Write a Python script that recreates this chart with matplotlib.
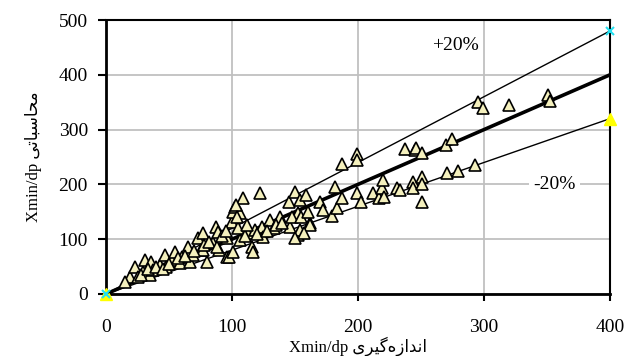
import matplotlib
matplotlib.use("Agg")
import matplotlib.pyplot as plt

SERIF = ["Liberation Serif", "DejaVu Sans"]
plt.rcParams["font.family"] = SERIF

x_meas = [19, 23, 25, 29, 31, 35, 36, 37, 43, 47, 48, 52, 55, 59, 60, 65, 67, 69, 73, 75,
          77, 77, 80, 85, 87, 89, 90, 96, 96, 98, 100, 101, 101, 102, 106, 106, 109, 113, 116, 117,
          118, 122, 124, 125, 130, 133, 138, 145, 146, 150, 152, 152, 154, 154, 159, 162, 162, 170, 172, 179,
          182, 183, 187, 187, 199, 199, 199, 202, 212, 217, 219, 220, 221, 231, 233, 237, 244, 244, 245, 246,
          251, 251, 251, 251, 270, 271, 275, 279, 293, 295, 299, 320, 351, 352,
          15, 28, 33, 40, 45, 50, 57, 63, 70, 78, 82, 88, 92, 95, 105, 110, 112, 120, 128, 135,
          140, 148, 155, 160, 157, 150, 103, 104]
y_calc = [31, 49, 31, 40, 62, 35, 58, 44, 53, 71, 49, 62, 77, 57, 68, 86, 58, 71, 102, 80,
          111, 80, 58, 93, 122, 113, 80, 102, 68, 68, 131, 150, 77, 159, 148, 99, 175, 111, 86, 77,
          117, 184, 122, 104, 135, 120, 141, 168, 122, 186, 148, 108, 172, 117, 181, 130, 126, 168, 153, 143,
          195, 157, 237, 175, 255, 245, 184, 168, 184, 175, 193, 208, 177, 193, 190, 264, 204, 193, 263, 266,
          257, 214, 201, 168, 272, 221, 283, 224, 235, 350, 340, 345, 363, 352,
          22, 35, 45, 50, 45, 55, 65, 70, 78, 90, 95, 85, 105, 115, 120, 105, 125, 110, 115, 125,
          130, 140, 140, 150, 112, 102, 163, 140]

line_x = [0, 400]
upper_y = [0, 480]   # +20%
equal_y = [0, 400]
lower_y = [0, 320]   # -20%

XLABEL_FA = "اندازه\u200cگیری"
YLABEL_FA = "محاسباتی"

# minimal Persian shaping (matplotlib has no complex text layout)
FORMS = {
    "ا": ("\uFE8D", "\uFE8E", None, None),
    "د": ("\uFEA9", "\uFEAA", None, None),
    "ز": ("\uFEAF", "\uFEB0", None, None),
    "ر": ("\uFEAD", "\uFEAE", None, None),
    "ن": ("\uFEE5", "\uFEE6", "\uFEE7", "\uFEE8"),
    "ه": ("\uFEE9", "\uFEEA", "\uFEEB", "\uFEEC"),
    "گ": ("\uFB92", "\uFB93", "\uFB94", "\uFB95"),
    "ی": ("\uFBFC", "\uFBFD", "\uFBFE", "\uFBFF"),
    "م": ("\uFEE1", "\uFEE2", "\uFEE3", "\uFEE4"),
    "ح": ("\uFEA1", "\uFEA2", "\uFEA3", "\uFEA4"),
    "س": ("\uFEB1", "\uFEB2", "\uFEB3", "\uFEB4"),
    "ب": ("\uFE8F", "\uFE90", "\uFE91", "\uFE92"),
    "ت": ("\uFE95", "\uFE96", "\uFE97", "\uFE98"),
}


def shape_fa(s):
    out = []
    for i, c in enumerate(s):
        if c not in FORMS:
            if c != "\u200c":
                out.append(c)
            continue
        isol, fina, init, medi = FORMS[c]
        p = s[i - 1] if i > 0 else ""
        n = s[i + 1] if i + 1 < len(s) else ""
        jp = p in FORMS and FORMS[p][2] is not None
        jn = n in FORMS and init is not None
        if jp and jn:
            out.append(medi)
        elif jp:
            out.append(fina)
        elif jn:
            out.append(init)
        else:
            out.append(isol)
    return "".join(reversed(out))


INK = "black"
GRID = "#c0c0c0"
TRI = "#f4f0bd"

fig = plt.figure(figsize=(6.28, 3.56), dpi=100)
ax = fig.add_axes([0.1688, 0.1742, 0.8025, 0.7696])

ax.plot(line_x, equal_y, color=INK, lw=2.6, zorder=3)
ax.plot(line_x, lower_y, color=INK, lw=1.0, zorder=3, marker="^", markersize=8,
        markerfacecolor="#ffff00", markeredgecolor="#ffff00", clip_on=False)
ax.plot(line_x, upper_y, color=INK, lw=1.0, zorder=3, marker="x", markersize=6,
        markeredgecolor="#22e0f0", markeredgewidth=1.5, clip_on=False)
ax.plot(x_meas, y_calc, linestyle="none", marker="^", markersize=8,
        markerfacecolor=TRI, markeredgecolor=INK, markeredgewidth=1.2, zorder=4)

ax.text(277, 453, "+20%", fontsize=14, ha="center", va="center",
        bbox=dict(facecolor="white", edgecolor="none", pad=3), zorder=2)
ax.text(356, 199, "-20%", fontsize=14, ha="center", va="center",
        bbox=dict(facecolor="white", edgecolor="none", pad=3), zorder=2)

ax.set_xlim(0, 400)
ax.set_ylim(0, 500)
ax.set_xticks([0, 100, 200, 300, 400])
ax.set_yticks([0, 100, 200, 300, 400, 500])
ax.grid(color=GRID, lw=1.3, zorder=0)
ax.set_axisbelow(True)
for sp in ax.spines.values():
    sp.set_color(INK)
    sp.set_linewidth(1.5)
ax.spines["left"].set_linewidth(2)
ax.spines["bottom"].set_linewidth(2)
ax.tick_params(axis="x", direction="out", length=5, width=1.5, pad=13, labelsize=14)
ax.tick_params(axis="y", direction="out", length=6, width=1.5, pad=7, labelsize=14)

ax.set_xlabel("Xmin/dp " + shape_fa(XLABEL_FA), fontsize=12, family=SERIF, labelpad=0)
ax.set_ylabel("Xmin/dp " + shape_fa(YLABEL_FA), fontsize=12, family=SERIF, labelpad=12)

fig.savefig("out.png", dpi=100, facecolor="white")
